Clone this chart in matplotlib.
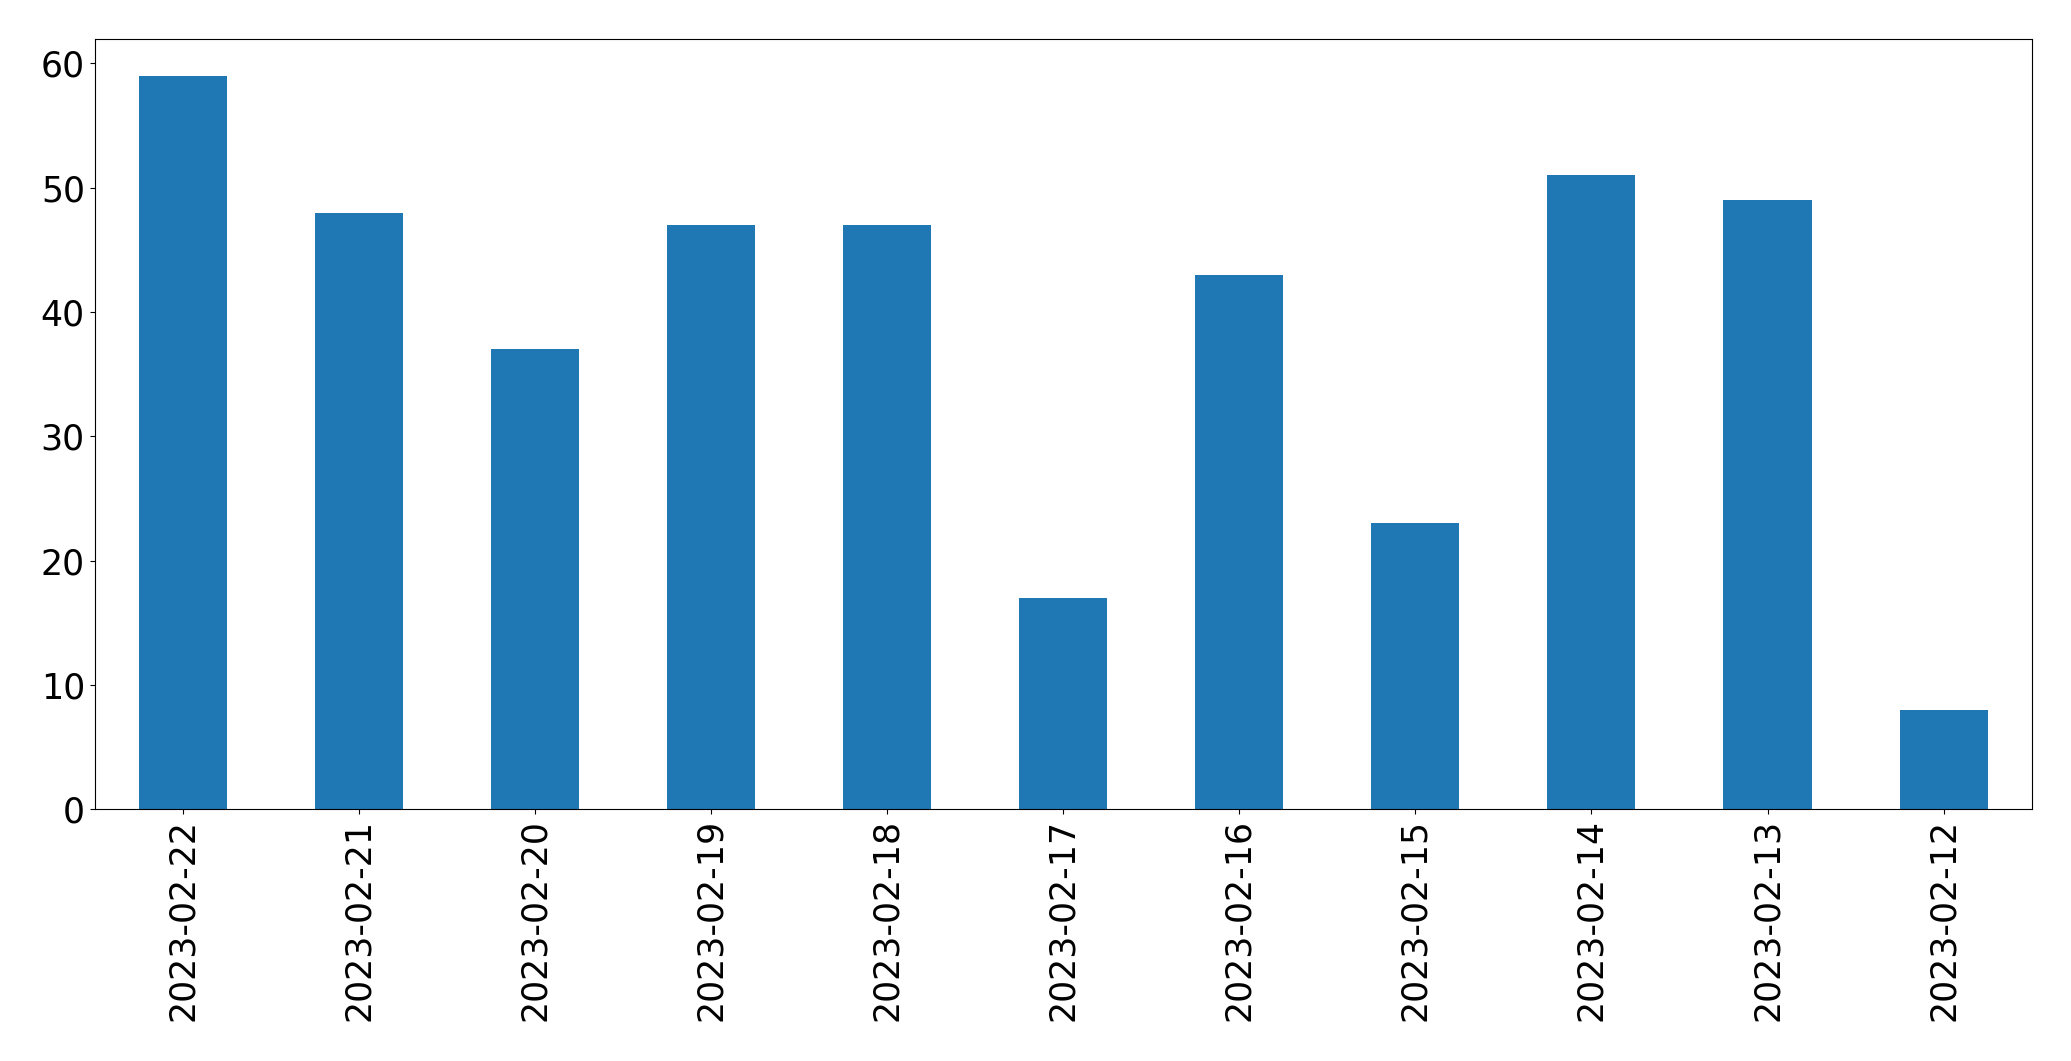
import matplotlib
matplotlib.use("Agg")
import matplotlib.pyplot as plt

# Daily counts, newest first
dates = ['2023-02-22', '2023-02-21', '2023-02-20', '2023-02-19', '2023-02-18', '2023-02-17',
	'2023-02-16', '2023-02-15', '2023-02-14', '2023-02-13', '2023-02-12']
counts = [59, 48, 37, 47, 47, 17, 43, 23, 51, 49, 8]

fig = plt.figure(figsize=(20.71, 10.61), dpi=100)
ax = fig.add_subplot(111)
fig.subplots_adjust(left=0.0457, right=0.981, top=0.963, bottom=0.2372)

positions = list(range(len(dates)))
ax.bar(positions, counts, width=0.5, color='#1f77b4')

ax.set_xlim(-0.5, len(dates) - 0.5)
ax.set_ylim(0, max(counts) * 1.05)

ax.set_xticks(positions)
ax.set_xticklabels(dates, rotation=90)
ax.tick_params(axis='both', labelsize=25)

plt.savefig("out.png", dpi=100)
